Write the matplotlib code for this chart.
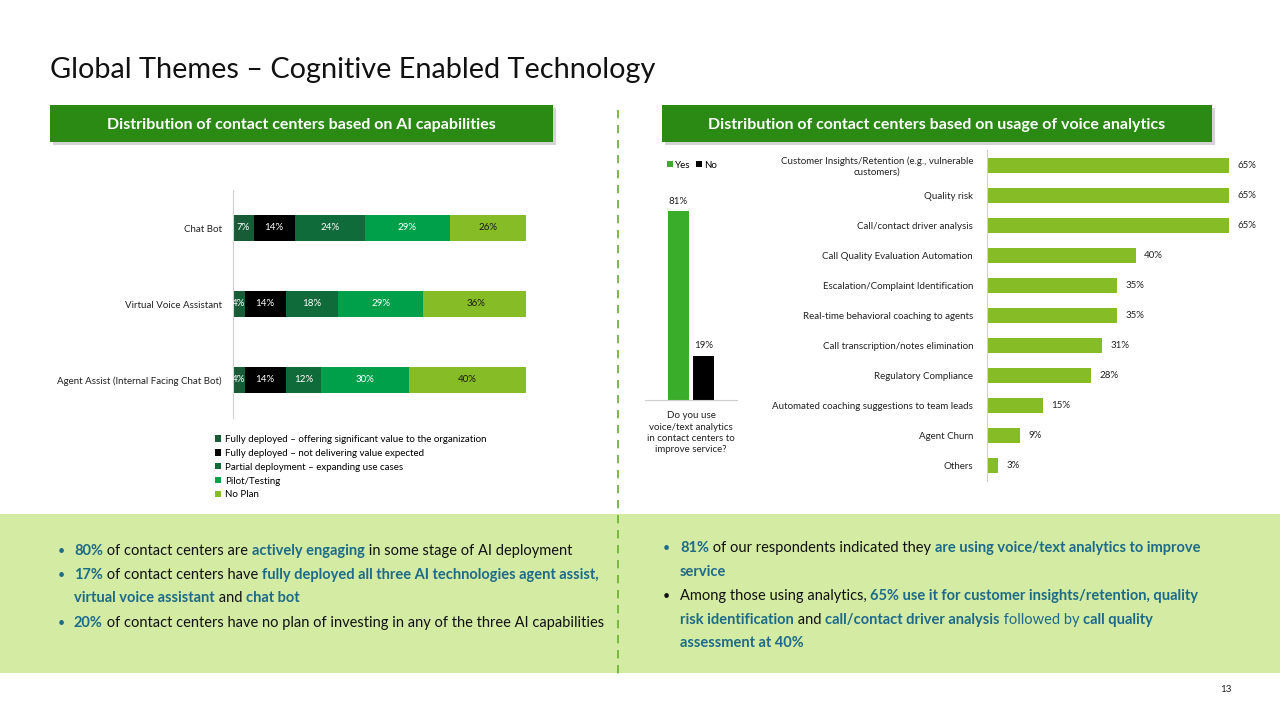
import matplotlib
matplotlib.use('Agg')
import matplotlib.pyplot as plt
from matplotlib.patches import Rectangle
from matplotlib.lines import Line2D

plt.rcParams['font.family'] = ['Lato', 'DejaVu Sans']

W, H = 1280, 720

# ---- data ----
ai_categories = ['Chat Bot', 'Virtual Voice Assistant', 'Agent Assist (Internal Facing Chat Bot)']
ai_series = ['Fully deployed \u2013 offering significant value to the organization',
             'Fully deployed \u2013 not delivering value expected',
             'Partial deployment \u2013 expanding use cases',
             'Pilot/Testing',
             'No Plan']
ai_values = [
    [7, 4, 4],
    [14, 14, 14],
    [24, 18, 12],
    [29, 29, 30],
    [26, 36, 40],
]
ai_colors = ['#175c37', '#000000', '#0f6b3a', '#00a04b', '#86bc25']
ai_text_colors = ['white', 'white', 'white', 'white', '#1a1a1a']

use_labels = ['Yes', 'No']
use_values = [81, 19]
use_question = 'Do you use\nvoice/text analytics\nin contact centers to\nimprove service?'

usage_labels = ['Customer Insights/Retention (e.g., vulnerable\ncustomers)',
                'Quality risk',
                'Call/contact driver analysis',
                'Call Quality Evaluation Automation',
                'Escalation/Complaint Identification',
                'Real-time behavioral coaching to agents',
                'Call transcription/notes elimination',
                'Regulatory Compliance',
                'Automated coaching suggestions to team leads',
                'Agent Churn',
                'Others']
usage_values = [65, 65, 65, 40, 35, 35, 31, 28, 15, 9, 3]

BLUE = '#1d6a8a'
fig = plt.figure(figsize=(12.8, 7.2), dpi=100)


def fx(x):
    return x / W


def fy(y):
    return 1 - y / H


def frect(x0, y0, x1, y1):
    return [fx(x0), fy(y1), (x1 - x0) / W, (y1 - y0) / H]


# ---- background pieces ----
fig.patches.append(Rectangle((0, fy(673)), 1, (673 - 514) / H, transform=fig.transFigure,
                             facecolor='#d4eba3', edgecolor='none', zorder=0))
fig.add_artist(Line2D([fx(618), fx(618)], [fy(110), fy(678)], transform=fig.transFigure,
                      color='#6aae2a', lw=1.2, dashes=(5, 4)))

fig.text(fx(50), fy(70), 'Global Themes \u2013 Cognitive Enabled Technology', fontsize=20.8,
         color='#111111', va='center', ha='left')
fig.text(fx(1226), fy(690), '13', fontsize=7, ha='center', va='center', color='#222222')


def header(x0, x1, text):
    fig.patches.append(Rectangle((fx(x0 + 3), fy(145)), (x1 - x0) / W, 37 / H, transform=fig.transFigure,
                                 facecolor='#a8a8a8', edgecolor='none', alpha=0.5, zorder=1))
    fig.patches.append(Rectangle((fx(x0), fy(142)), (x1 - x0) / W, 37 / H, transform=fig.transFigure,
                                 facecolor='#2b8a13', edgecolor='none', zorder=2))
    fig.text(fx((x0 + x1) / 2), fy(125), text, color='white', fontsize=11.5, fontweight='bold',
             ha='center', va='center', zorder=3)


header(50, 553, 'Distribution of contact centers based on AI capabilities')
header(662, 1212, 'Distribution of contact centers based on usage of voice analytics')

# ---- left stacked bar chart ----
ax1 = fig.add_axes(frect(233, 190, 526, 418))
left = [0] * len(ai_categories)
handles = []
for vals, name, col, tcol in zip(ai_values, ai_series, ai_colors, ai_text_colors):
    bars = ax1.barh(range(len(ai_categories)), vals, left=left, height=0.33, color=col, label=name)
    handles.append(bars)
    for i, v in enumerate(vals):
        ax1.text(left[i] + v / 2, i, f'{v}%', ha='center', va='center', fontsize=7, color=tcol)
    left = [l + v for l, v in zip(left, vals)]
ax1.set_xlim(0, 100)
ax1.set_ylim(2.5, -0.5)
ax1.set_yticks(range(len(ai_categories)))
ax1.set_yticklabels(ai_categories, fontsize=7, color='#222222')
ax1.tick_params(axis='y', length=0, pad=8)
ax1.set_xticks([])
for s in ['top', 'right', 'bottom']:
    ax1.spines[s].set_visible(False)
ax1.spines['left'].set_color('#d0d0d0')
fig.legend(handles=handles, loc='upper left', bbox_to_anchor=(fx(215), fy(435)), frameon=False,
           fontsize=7, handlelength=0.6, handleheight=0.6, handletextpad=0.4, labelspacing=0.5,
           borderpad=0, borderaxespad=0)

# ---- small yes/no chart ----
ax2 = fig.add_axes(frect(645, 167, 737, 400))
offs = [-0.28, 0.28]
ycols = ['#3aae2a', '#000000']
yh = []
for o, v, lab, col in zip(offs, use_values, use_labels, ycols):
    b = ax2.bar(o, v, width=0.46, color=col, label=lab)
    yh.append(b)
    ax2.annotate(f'{v}%', (o, v), xytext=(0, 4), textcoords='offset points', ha='center',
                 va='bottom', fontsize=7, color='#222222')
ax2.set_xlim(-1, 1)
ax2.set_ylim(0, 100)
ax2.set_yticks([])
ax2.set_xticks([0])
ax2.set_xticklabels([use_question], fontsize=7, color='#222222', linespacing=1.35)
ax2.tick_params(axis='x', length=0, pad=8)
for s in ['top', 'right', 'left']:
    ax2.spines[s].set_visible(False)
ax2.spines['bottom'].set_color('#d0d0d0')
ax2.legend(handles=yh, loc='center', bbox_to_anchor=(fx(692), fy(165)), bbox_transform=fig.transFigure,
           ncol=2, frameon=False, fontsize=7, handlelength=0.6, handleheight=0.6, handletextpad=0.2,
           columnspacing=0.6, borderpad=0)

# ---- right horizontal bar chart ----
ax3 = fig.add_axes(frect(987, 150, 1260, 481))
ax3.barh(range(len(usage_labels)), usage_values, height=0.5, color='#86bc25')
for i, v in enumerate(usage_values):
    ax3.annotate(f'{v}%', (v, i), xytext=(6, 0), textcoords='offset points', ha='left',
                 va='center', fontsize=7, color='#222222')
ax3.set_xlim(0, 73.4)
ax3.set_ylim(len(usage_labels) - 0.5, -0.5)
ax3.set_yticks(range(len(usage_labels)))
ax3.set_yticklabels(usage_labels, fontsize=7, color='#222222', multialignment='center')
ax3.tick_params(axis='y', length=0, pad=10)
ax3.set_xticks([])
for s in ['top', 'right', 'bottom']:
    ax3.spines[s].set_visible(False)
ax3.spines['left'].set_color('#d0d0d0')

# ---- bottom commentary ----
renderer = fig.canvas.get_renderer()


def rich_line(x, y, parts, size=10.5):
    for txt, col, bold in parts:
        t = fig.text(fx(x), fy(y), txt, color=col, fontsize=size, fontweight='bold' if bold else 'normal',
                     ha='left', va='baseline')
        x += t.get_window_extent(renderer).width


K = '#111111'
left_lines = [
    (True, [('80%', BLUE, True), (' of contact centers are ', K, False), ('actively engaging', BLUE, True),
            (' in some stage of AI deployment', K, False)]),
    (True, [('17%', BLUE, True), (' of contact centers have ', K, False),
            ('fully deployed all three AI technologies agent assist,', BLUE, True)]),
    (False, [('virtual voice assistant', BLUE, True), (' and ', K, False), ('chat bot', BLUE, True)]),
    (True, [('20%', BLUE, True),
            (' of contact centers have no plan of investing in any of the three AI capabilities', K, False)]),
]
ly = [555, 579, 602, 627]
for (bullet, parts), y in zip(left_lines, ly):
    if bullet:
        fig.text(fx(58), fy(y), '\u2022', color=BLUE, fontsize=9, ha='left', va='baseline')
    rich_line(74, y, parts)

right_lines = [
    (BLUE, [('81%', BLUE, True), (' of our respondents indicated they ', K, False),
            ('are using voice/text analytics to improve', BLUE, True)]),
    (None, [('service', BLUE, True)]),
    (K, [('Among those using analytics, ', K, False),
         ('65% use it for customer insights/retention, quality', BLUE, True)]),
    (None, [('risk identification', BLUE, True), (' and ', K, False), ('call/contact driver analysis', BLUE, True),
            (' followed by ', BLUE, False), ('call quality', BLUE, True)]),
    (None, [('assessment at 40%', BLUE, True)]),
]
ry = [552, 576, 600, 624, 647]
for (bcol, parts), y in zip(right_lines, ry):
    if bcol:
        fig.text(fx(663), fy(y), '\u2022', color=bcol, fontsize=9, ha='left', va='baseline')
    rich_line(680, y, parts)

fig.savefig('out.png', dpi=100)
